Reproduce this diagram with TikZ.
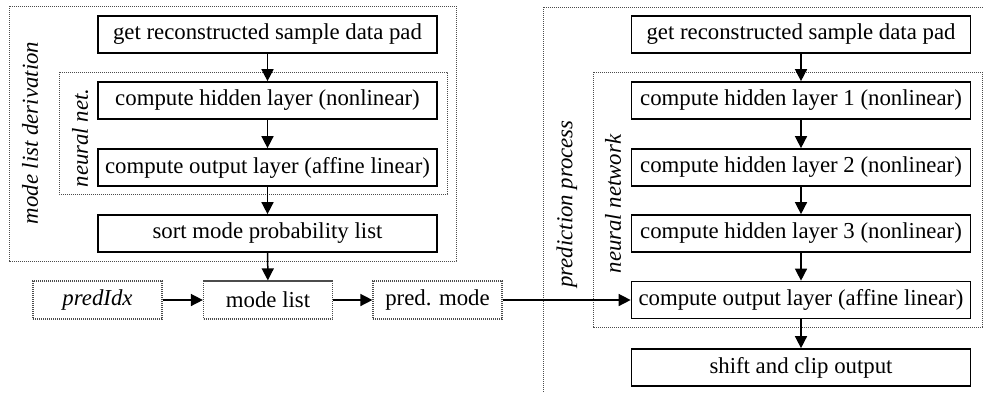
\documentclass[tikz,border=0pt]{standalone}
\usepackage{fontspec}
\setmainfont{Liberation Serif}
\usetikzlibrary{arrows.meta}

\begin{document}
\begin{tikzpicture}[x=0.5pt, y=-0.5pt, every node/.style={font=\fontsize{11.4}{13}\selectfont},
  procbox/.style={draw, line width=0.85pt, minimum width=169.5pt, minimum height=18.5pt, inner sep=0pt},
  databox/.style={draw=gray!60!black, dash pattern=on 0.6pt off 0.4pt, line width=0.6pt, minimum width=64.5pt, minimum height=19pt, inner sep=0pt},
  groupbox/.style={draw=gray!60!black, dash pattern=on 0.6pt off 0.4pt, line width=0.5pt},
  grouplabel/.style={rotate=90, font=\fontsize{11.4}{13}\selectfont\itshape},
  flow/.style={-{Triangle[length=6pt,width=6pt]}, line width=0.75pt}]
  \useasboundingbox (0,0) rectangle (983,392);
  \clip (0,0) rectangle (983,392);
  \draw[groupbox] (9,6) rectangle (456,261);
  \draw[groupbox] (59,72) rectangle (447,194);
  \draw[groupbox] (543,7) rectangle (1010,410);
  \draw[groupbox] (593,72) rectangle (982,327);
  \node[grouplabel] (lderiv) at (30,133) {mode list derivation};
  \node[grouplabel] (lnet) at (80,138) {neural net.};
  \node[grouplabel] (rpred) at (567,204) {prediction process};
  \node[grouplabel] (rnet) at (613,204) {neural network};
  \node[procbox] (lget) at (267.5,34.5) {get reconstructed sample data pad};
  \node[procbox] (lhid) at (267.5,100.5) {compute hidden layer (nonlinear)};
  \node[procbox] (lout) at (267.5,167.5) {compute output layer (affine linear)};
  \node[procbox] (lsort) at (267.5,233.5) {sort mode probability list};
  \node[databox] (predidx) at (97.5,300) {\textit{predIdx}};
  \node[databox] (modelist) at (268,300) {mode list};
  \node[databox] (predmode) at (437.5,300) {pred. mode};
  \node[procbox] (rget) at (801,34.5) {get reconstructed sample data pad};
  \node[procbox] (rhidA) at (801,100.5) {compute hidden layer 1 (nonlinear)};
  \node[procbox] (rhidB) at (801,167.5) {compute hidden layer 2 (nonlinear)};
  \node[procbox] (rhidC) at (801,233.5) {compute hidden layer 3 (nonlinear)};
  \node[procbox] (rout) at (801,300) {compute output layer (affine linear)};
  \node[procbox] (rshift) at (801,367.5) {shift and clip output};
  \draw[flow] (lget) -- (lhid);
  \draw[flow] (lhid) -- (lout);
  \draw[flow] (lout) -- (lsort);
  \draw[flow] (lsort) -- (modelist);
  \draw[flow] (predidx) -- (modelist);
  \draw[flow] (modelist) -- (predmode);
  \draw[flow] (predmode) -- (rout);
  \draw[flow] (rget) -- (rhidA);
  \draw[flow] (rhidA) -- (rhidB);
  \draw[flow] (rhidB) -- (rhidC);
  \draw[flow] (rhidC) -- (rout);
  \draw[flow] (rout) -- (rshift);
\end{tikzpicture}
\end{document}
